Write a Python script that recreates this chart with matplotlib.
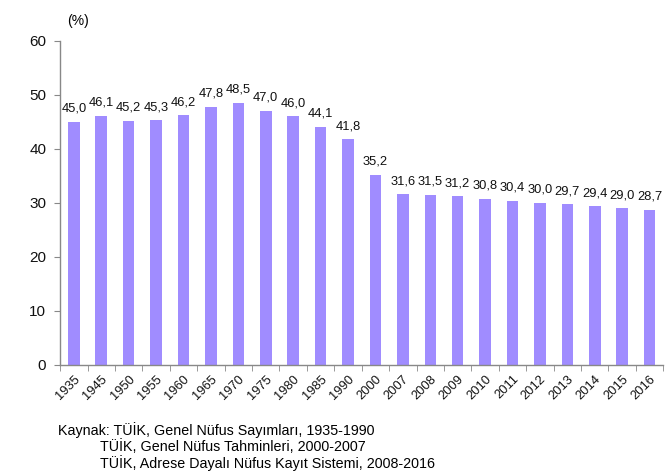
import matplotlib
matplotlib.use("Agg")
import matplotlib.pyplot as plt
import numpy as np

years = ["1935", "1945", "1950", "1955", "1960", "1965", "1970", "1975", "1980", "1985", "1990",
         "2000", "2007", "2008", "2009", "2010", "2011", "2012", "2013", "2014", "2015", "2016"]
values = [45.0, 46.1, 45.2, 45.3, 46.2, 47.8, 48.5, 47.0, 46.0, 44.1, 41.8,
          35.2, 31.6, 31.5, 31.2, 30.8, 30.4, 30.0, 29.7, 29.4, 29.0, 28.7]
yticks = [0, 10, 20, 30, 40, 50, 60]
source_lines = ["Kaynak: TÜİK, Genel Nüfus Sayımları, 1935-1990",
                "TÜİK, Genel Nüfus Tahminleri, 2000-2007",
                "TÜİK, Adrese Dayalı Nüfus Kayıt Sistemi, 2008-2016"]

plt.rcParams['font.family'] = ['Liberation Sans', 'DejaVu Sans']

fig = plt.figure(figsize=(6.68, 4.74), dpi=100)
ax = fig.add_axes([0.09, 0.23, 0.903, 0.684])

x = np.arange(len(years))
ax.bar(x, values, width=0.42, color="#A08CFF", zorder=2)
for xi, v in zip(x, values):
    ax.text(xi, v + 1.3, f"{v:.1f}".replace(".", ","), ha="center", va="bottom",
            fontsize=9.3, color="#111111")

ax.set_xlim(-0.5, len(years) - 0.5)
ax.set_ylim(0, 60)
ax.set_yticks(yticks)
ax.set_yticklabels([str(t) for t in yticks], fontsize=11, color="#111111")
ax.set_xticks(x)
ax.set_xticklabels(years, rotation=45, ha="right", rotation_mode="anchor", fontsize=9.3,
                   color="#111111")
ax.tick_params(axis="x", length=0, pad=6)
ax.set_xticks(np.arange(-0.5, len(years), 1.0), minor=True)
ax.tick_params(axis="x", which="minor", length=4, color="#888888")
ax.tick_params(axis="y", length=4, color="#888888", pad=6)

for s in ["top", "right"]:
    ax.spines[s].set_visible(False)
for s in ["left", "bottom"]:
    ax.spines[s].set_color("#888888")
    ax.spines[s].set_linewidth(1.0)

fig.text(0.101, 0.955, "(%)", fontsize=10, ha="left", va="center")

fs = 10.3
fig.text(0.087, 0.092, source_lines[0], fontsize=fs, ha="left", va="center")
fig.text(0.150, 0.057, source_lines[1], fontsize=fs, ha="left", va="center")
fig.text(0.150, 0.024, source_lines[2], fontsize=fs, ha="left", va="center")

fig.savefig("out.png", dpi=100)
